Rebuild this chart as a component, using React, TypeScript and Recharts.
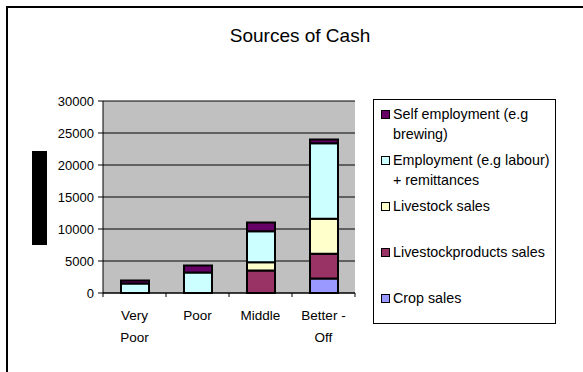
import React from "react";
import { BarChart, Bar, XAxis, YAxis, CartesianGrid } from "recharts";

const categories = ["Very\nPoor", "Poor", "Middle", "Better -\nOff"];
const cropSales = [0, 0, 0, 2250];
const livestockProductsSales = [0, 0, 3500, 3900];
const livestockSales = [0, 0, 1300, 5450];
const employment = [1500, 3200, 4850, 11800];
const selfEmployment = [450, 1100, 1350, 600];
const yTicks = [0, 5000, 10000, 15000, 20000, 25000, 30000];

const series = [
  { key: "crop", name: "Crop sales", color: "#9999FF", values: cropSales },
  { key: "lsp", name: "Livestockproducts sales", color: "#993366", values: livestockProductsSales },
  { key: "ls", name: "Livestock sales", color: "#FFFFCC", values: livestockSales },
  { key: "emp", name: "Employment (e.g labour)\n+ remittances", color: "#CCFFFF", values: employment },
  { key: "self", name: "Self employment (e.g\nbrewing)", color: "#660066", values: selfEmployment },
];

const data = categories.map((c, i) => {
  const row: Record<string, string | number> = { name: c };
  series.forEach((s) => (row[s.key] = s.values[i]));
  return row;
});

const FONT = '"Liberation Sans", Arial, sans-serif';

const CategoryTick = (props: any) => {
  const { x, y, payload, index } = props;
  const off = payload && payload.offset ? payload.offset : 31.5;
  const lines = String(payload.value).split("\n");
  return (
    <g>
      <line x1={x - off} x2={x - off} y1={y} y2={y + 4} stroke="#000" />
      {index === categories.length - 1 && (
        <line x1={x + off} x2={x + off} y1={y} y2={y + 4} stroke="#000" />
      )}
      {lines.map((l, i) => (
        <text key={i} x={x} y={y + 27 + i * 22} textAnchor="middle" fontSize={13.5} fontFamily={FONT} fill="#000">
          {l}
        </text>
      ))}
    </g>
  );
};

export default function App() {
  return (
    <div style={{ position: "absolute", left: 0, top: 0, width: 583, height: 372, background: "#fff", overflow: "hidden", fontFamily: FONT }}>
      <div style={{ position: "absolute", left: 6, top: 6, width: 600, height: 400, border: "2px solid #000" }} />
      <div style={{ position: "absolute", left: 150, top: 25, width: 300, textAlign: "center", fontSize: 19 }}>
        Sources of Cash
      </div>
      <div style={{ position: "absolute", left: 32, top: 151, width: 15, height: 94, background: "#000" }} />
      <div style={{ position: "absolute", left: 0, top: 0 }}>
        <BarChart width={583} height={372} data={data} margin={{ top: 101, right: 228, left: 43, bottom: 39 }} barSize={28}>
          <CartesianGrid fill="#C0C0C0" stroke="#000" vertical={false} />
          <XAxis dataKey="name" height={40} axisLine={{ stroke: "#000" }} tickLine={false} tickSize={0} tickMargin={0} tick={<CategoryTick />} interval={0} />
          <XAxis xAxisId="top" orientation="top" dataKey="name" height={0} axisLine={{ stroke: "#808080" }} tick={false} tickLine={false} />
          <YAxis
            width={60}
            domain={[0, 30000]}
            ticks={yTicks}
            axisLine={{ stroke: "#000" }}
            tickLine={{ stroke: "#000" }}
            tickSize={5}
            tickMargin={4}
            tick={{ fill: "#000", fontSize: 13, fontFamily: FONT }}
          />
          <YAxis yAxisId="right" orientation="right" width={0} axisLine={{ stroke: "#808080" }} tick={false} tickLine={false} />
          {series.map((s) => (
            <Bar key={s.key} dataKey={s.key} stackId="a" fill={s.color} stroke="#000" strokeWidth={2} isAnimationActive={false} />
          ))}
        </BarChart>
      </div>
      <div style={{ position: "absolute", left: 373, top: 99, width: 181, height: 223, border: "1px solid #000", background: "#fff" }}>
        {[...series].reverse().map((s, i) => (
          <div key={s.key} style={{ position: "absolute", left: 7, top: 4 + i * 46, display: "flex", alignItems: "flex-start" }}>
            <div style={{ width: 7, height: 7, marginTop: 6, background: s.color, border: "1px solid #000" }} />
            <div style={{ marginLeft: 3, fontSize: 14.3, lineHeight: "20px", whiteSpace: "pre" }}>
              {s.name.split("\n").map((l, j) => (
                <div key={j}>{l}</div>
              ))}
            </div>
          </div>
        ))}
      </div>
    </div>
  );
}
